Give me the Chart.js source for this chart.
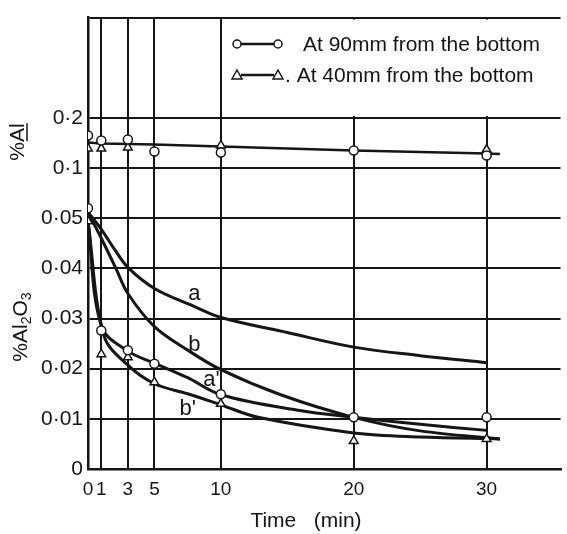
<!DOCTYPE html>
<html lang="en">
<head>
<meta charset="UTF-8">
<title>%Al and %Al2O3 against time</title>
<script src="https://cdn.jsdelivr.net/npm/chart.js"></script>
<style>
  html, body { margin: 0; padding: 0; background: #fff; }
  .chart-box { position: relative; width: 567px; height: 534px; }
</style>
</head>
<body>
<div class="chart-box"><canvas id="chart"></canvas></div>
<script>
// sampling times (min) and the broken y axis labels
const times = [0, 1, 3, 5, 10, 20, 30];
const yTickLabels = ["0", "0·01", "0·02", "0·03", "0·04", "0·05", "0·1", "0·2"];
const legendLabels = ["At 90mm from the bottom", ". At 40mm from the bottom"];

// dissolved Al (%)
const al90 = [0.165, 0.155, 0.157, 0.133, 0.131, 0.135, 0.125];
const al40 = [0.139, 0.139, 0.141, null, 0.145, null, 0.137];
const alLineTimes = [0, 1, 5, 10, 20, 30, 31];
const alLineValues = [0.151, 0.149, 0.147, 0.143, 0.135, 0.129, 0.128];

// Al2O3 (%)
const oxide90 = [0.060, 0.0276, 0.0237, 0.021, 0.0149, 0.0103, 0.0103];
const oxide40 = [0.0494, 0.0229, 0.0223, 0.0173, 0.013, 0.0056, 0.006];

// the four drawn curves a, b, a', b'
const curveNames = ["a", "b", "a'", "b'"];
const aTimes = [0, 1, 2, 3, 5, 7.9, 10, 15, 20, 25, 30];
const aValues = [0.056, 0.0478, 0.0438, 0.0402, 0.036, 0.0325, 0.0302, 0.0272, 0.0243, 0.0226, 0.0212];
const bTimes = [0, 1, 2.1, 3, 5, 7.5, 10, 14.5, 20, 25, 31];
const bValues = [0.056, 0.046, 0.040, 0.035, 0.0284, 0.0237, 0.0198, 0.0148, 0.0103, 0.0076, 0.006];
const a2Times = [0, 1, 3, 5, 7.5, 10, 15.8, 20, 25, 30];
const a2Values = [0.0494, 0.0285, 0.0235, 0.0211, 0.0182, 0.0148, 0.0117, 0.0103, 0.0089, 0.0077];
const b2Times = [0, 1.2, 3, 5, 7.5, 10, 12.8, 20, 25, 31];
const b2Values = [0.0494, 0.0266, 0.0207, 0.017, 0.015, 0.0128, 0.0103, 0.0072, 0.0064, 0.006];

const ink = "#151515";
const font = "'Liberation Sans', Arial, sans-serif";

// the y axis is broken: 0..0.05 in steps of 0.01, then 0.1, then 0.2, equally spaced
function toAxis(v) {
  if (v == null) return null;
  if (v <= 0.05) return v / 0.01;
  if (v <= 0.1) return 5 + (v - 0.05) / 0.05;
  return 6 + (v - 0.1) / 0.1;
}

function points(ts, vs) {
  return ts.map((t, i) => vs[i] == null ? null : { x: t, y: toAxis(vs[i]) }).filter(p => p);
}

function markerSet(vs, style) {
  return {
    data: points(times, vs),
    showLine: false,
    pointStyle: style,
    pointRadius: style === "triangle" ? 5 : 4.5,
    pointBorderWidth: 1.5,
    pointBorderColor: ink,
    pointBackgroundColor: "#fff",
  };
}

function curveSet(ts, vs) {
  return {
    data: points(ts, vs),
    borderColor: ink,
    borderWidth: 3,
    pointRadius: 0,
    tension: 0.35,
    fill: false,
  };
}

function drawMarker(ctx, style, x, y) {
  ctx.beginPath();
  if (style === "circle") {
    ctx.arc(x, y, 4, 0, Math.PI * 2);
  } else {
    ctx.moveTo(x, y - 5);
    ctx.lineTo(x + 5, y + 4);
    ctx.lineTo(x - 5, y + 4);
    ctx.closePath();
  }
  ctx.fillStyle = "#fff";
  ctx.fill();
  ctx.stroke();
}

const annotations = {
  id: "annotations",
  beforeDatasetsDraw(chart) {
    // blank panel for the key, the 20 and 30 min lines stop at 0.2
    const { ctx, chartArea, scales: { x, y } } = chart;
    const left = x.getPixelForValue(10) + 5;
    const bottom = y.getPixelForValue(7) - 2;
    ctx.save();
    ctx.fillStyle = "#fff";
    ctx.fillRect(left, chartArea.top + 2, chartArea.right - left, bottom - chartArea.top - 2);
    ctx.restore();
  },
  afterDraw(chart) {
    const { ctx, scales: { x, y } } = chart;
    ctx.save();
    ctx.strokeStyle = ink;
    ctx.fillStyle = ink;
    ctx.lineWidth = 1.5;

    // key
    const styles = ["circle", "triangle"];
    const rows = [44, 75];
    const textX = [303, 285];
    styles.forEach((s, i) => {
      const yy = rows[i];
      ctx.lineWidth = 2.5;
      ctx.beginPath();
      ctx.moveTo(241, yy);
      ctx.lineTo(274, yy);
      ctx.stroke();
      ctx.lineWidth = 1.5;
      drawMarker(ctx, s, 237, yy);
      drawMarker(ctx, s, 278, yy);
      ctx.fillStyle = ink;
      ctx.font = "21px " + font;
      ctx.textBaseline = "middle";
      ctx.textAlign = "left";
      ctx.fillText(legendLabels[i], textX[i], yy + 1);
    });

    // curve names
    const namePos = [[8, 0.035], [8, 0.0247], [9.3, 0.0177], [7.5, 0.0119]];
    ctx.font = "22px " + font;
    ctx.textAlign = "center";
    curveNames.forEach((n, i) => {
      ctx.fillText(n, x.getPixelForValue(namePos[i][0]), y.getPixelForValue(toAxis(namePos[i][1])));
    });

    // x title
    ctx.font = "21px " + font;
    ctx.fillText("Time   (min)", 306, 521);

    // y titles (rotated)
    ctx.save();
    ctx.translate(18, 142);
    ctx.rotate(-Math.PI / 2);
    ctx.font = "21px " + font;
    ctx.textAlign = "center";
    ctx.textBaseline = "middle";
    ctx.fillText("%Al", 0, 0);
    const w = ctx.measureText("%Al").width;
    const wp = ctx.measureText("%").width;
    ctx.lineWidth = 1.5;
    ctx.beginPath();
    ctx.moveTo(-w / 2 + wp + 1, 9);
    ctx.lineTo(w / 2, 9);
    ctx.stroke();
    ctx.restore();

    ctx.save();
    ctx.translate(20, 327);
    ctx.rotate(-Math.PI / 2);
    ctx.textBaseline = "alphabetic";
    ctx.textAlign = "left";
    const parts = [["%Al", false], ["2", true], ["O", false], ["3", true]];
    let total = 0;
    parts.forEach(([t, sub]) => {
      ctx.font = (sub ? "14px " : "21px ") + font;
      total += ctx.measureText(t).width;
    });
    let px = -total / 2;
    parts.forEach(([t, sub]) => {
      ctx.font = (sub ? "14px " : "21px ") + font;
      ctx.fillText(t, px, sub ? 11 : 7);
      px += ctx.measureText(t).width;
    });
    ctx.restore();

    ctx.restore();
  }
};

new Chart(document.getElementById("chart"), {
  type: "line",
  data: {
    datasets: [
      markerSet(al90, "circle"),
      markerSet(al40, "triangle"),
      markerSet(oxide90, "circle"),
      markerSet(oxide40, "triangle"),
      { ...curveSet(alLineTimes, alLineValues), borderWidth: 2.5, tension: 0 },
      curveSet(aTimes, aValues),
      curveSet(bTimes, bValues),
      curveSet(a2Times, a2Values),
      curveSet(b2Times, b2Values),
    ],
  },
  options: {
    responsive: true,
    maintainAspectRatio: false,
    animation: false,
    layout: { padding: { top: 6, right: 0, left: 0, bottom: 0 } },
    plugins: { legend: { display: false }, tooltip: { enabled: false } },
    scales: {
      x: {
        type: "linear",
        min: 0,
        max: 35.56,
        afterBuildTicks(scale) { scale.ticks = times.map(v => ({ value: v })); },
        afterFit(scale) { scale.height = 65; },
        ticks: {
          autoSkip: false,
          maxRotation: 0,
          padding: 9,
          color: ink,
          font: { family: font, size: 19 },
          callback: v => String(v),
        },
        grid: { color: ink, lineWidth: 2, drawTicks: false },
        border: { color: ink, width: 2.5 },
      },
      y: {
        type: "linear",
        min: 0,
        max: 9,
        afterBuildTicks(scale) {
          scale.ticks = [0, 1, 2, 3, 4, 5, 6, 7, 9].map(v => ({ value: v }));
        },
        afterFit(scale) { scale.width = 88; },
        ticks: {
          autoSkip: false,
          padding: 5,
          color: ink,
          font: { family: font, size: 21 },
          callback: v => yTickLabels[v] ?? "",
        },
        grid: { color: ink, lineWidth: 2, drawTicks: false },
        border: { color: ink, width: 2.5 },
      },
    },
  },
  plugins: [annotations],
});
</script>
</body>
</html>
